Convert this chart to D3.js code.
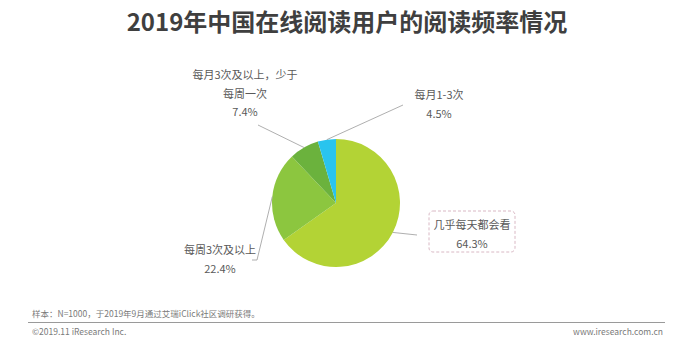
<!DOCTYPE html>
<html>
<head>
<meta charset="utf-8">
<script src="https://cdn.jsdelivr.net/npm/d3@7"></script>
<style>
  html, body { margin: 0; padding: 0; background: #fff; }
  svg { display: block; }
  text { font-family: "Noto Sans CJK SC", "Noto Sans", sans-serif; }
</style>
</head>
<body>
<svg id="chart" width="694" height="350"></svg>
<script>
// Reading frequency of online readers, China 2019
const categories = ["几乎每天都会看", "每周3次及以上", "每月3次及以上，少于每周一次", "每月1-3次"];
const shares = [64.3, 22.4, 7.4, 4.5];
const labelLines = [["几乎每天都会看"], ["每周3次及以上"], ["每月3次及以上，少于", "每周一次"], ["每月1-3次"]];
const colors = ["#b3d335", "#8cc63f", "#6bb23d", "#29c4ee"];

const svg = d3.select("#chart");
const W = 694;

// Title
svg.append("text")
  .attr("x", W / 2).attr("y", 31)
  .attr("text-anchor", "middle")
  .attr("font-size", 24).attr("font-weight", 700)
  .attr("fill", "#3f3f3f")
  .text("2019年中国在线阅读用户的阅读频率情况");

// Pie
const cx = 336, cy = 203, R = 64;
const pie = d3.pie().sort(null).value(d => d);
const arcs = pie(shares);
const arc = d3.arc().innerRadius(0).outerRadius(R);
const g = svg.append("g").attr("transform", `translate(${cx},${cy})`);
g.selectAll("path").data(arcs).enter().append("path")
  .attr("d", arc)
  .attr("fill", (d, i) => colors[i]);

// Label layout: leader path points (relative to pie centre) and text anchor
const layout = [
  { path: [[81, 32]], text: [472, 229], box: true },
  { path: [[-79, 57], [-84, 57]], text: [220, 254] },
  { path: [[-78, -78]], text: [245, 79] },
  { path: [[67, -98]], text: [439, 99] }
];

const edge = d => {
  const a = (d.startAngle + d.endAngle) / 2;
  return [R * Math.sin(a), -R * Math.cos(a)];
};

arcs.forEach((d, i) => {
  const pts = [edge(d)].concat(layout[i].path);
  g.append("path")
    .attr("d", d3.line()(pts))
    .attr("fill", "none")
    .attr("stroke", "#9a9a9a")
    .attr("stroke-width", 0.8);

  const [tx, ty] = layout[i].text;
  const lines = labelLines[i].concat([d3.format(".1f")(d.data) + "%"]);
  const t = svg.append("text")
    .attr("text-anchor", "middle")
    .attr("font-size", 11)
    .attr("fill", "#595959");
  lines.forEach((s, k) => {
    t.append("tspan").attr("x", tx).attr("y", ty + k * 18.5).text(s);
  });

  if (layout[i].box) {
    svg.append("rect")
      .attr("x", 429).attr("y", 211)
      .attr("width", 86).attr("height", 41)
      .attr("rx", 4)
      .attr("fill", "none")
      .attr("stroke", "#d9b8c4")
      .attr("stroke-width", 1)
      .attr("stroke-dasharray", "3,2");
  }
});

// Footer
svg.append("text")
  .attr("x", 32).attr("y", 317)
  .attr("font-size", 8.5).attr("fill", "#7a7a7a")
  .text("样本：N=1000，于2019年9月通过艾瑞iClick社区调研获得。");
svg.append("line")
  .attr("x1", 28).attr("x2", 665)
  .attr("y1", 322.5).attr("y2", 322.5)
  .attr("stroke", "#9a9a9a").attr("stroke-width", 1);
svg.append("text")
  .attr("x", 32).attr("y", 334.5)
  .attr("font-size", 8.5).attr("fill", "#7a7a7a")
  .text("©2019.11 iResearch Inc.");
svg.append("text")
  .attr("x", 663).attr("y", 334.5)
  .attr("text-anchor", "end")
  .attr("font-size", 8.5).attr("fill", "#7a7a7a")
  .text("www.iresearch.com.cn");
</script>
</body>
</html>
